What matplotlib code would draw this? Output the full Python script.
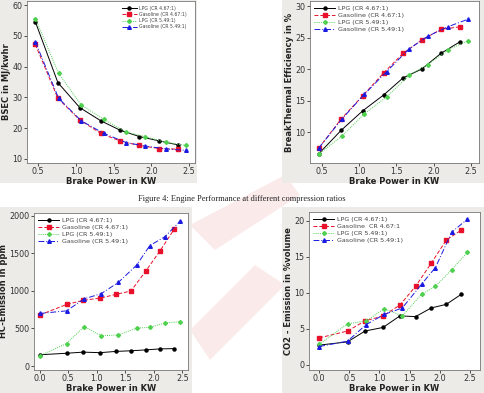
import matplotlib
matplotlib.use("Agg")
import matplotlib.pyplot as plt
from matplotlib.patches import Rectangle, Polygon

# ---- data ----
labels = ["LPG (CR 4.67:1)", "Gasoline (CR 4.67:1)", "LPG (CR 5.49:1)", "Gasoline (CR 5.49:1)"]

bp_467 = [0.46, 0.76, 1.05, 1.33, 1.59, 1.84, 2.10, 2.35]
bp_549 = [0.46, 0.77, 1.07, 1.37, 1.67, 1.92, 2.19, 2.46]

bsec_lpg_467 = [54.6, 34.8, 26.7, 22.4, 19.3, 17.3, 15.9, 14.6]
bsec_gas_467 = [47.2, 29.7, 22.7, 18.3, 15.8, 14.4, 13.4, 13.2]
bsec_lpg_549 = [55.6, 37.8, 27.5, 22.9, 18.7, 17.3, 15.4, 14.4]
bsec_gas_549 = [48.1, 29.7, 22.4, 18.3, 15.3, 14.2, 13.3, 12.8]

bte_lpg_467 = [6.6, 10.3, 13.4, 15.9, 18.6, 20.0, 22.5, 24.3]
bte_gas_467 = [7.5, 12.1, 15.8, 19.4, 22.5, 24.6, 26.3, 26.7]
bte_lpg_549 = [6.5, 9.4, 12.9, 15.6, 19.0, 20.7, 23.0, 24.5]
bte_gas_549 = [7.5, 12.1, 16.0, 19.6, 23.2, 25.2, 26.7, 27.9]

bp0_467 = [0.0, 0.47, 0.76, 1.06, 1.34, 1.60, 1.86, 2.11, 2.36]
bp0_549 = [0.0, 0.47, 0.78, 1.08, 1.38, 1.70, 1.93, 2.20, 2.46]

hc_lpg_467 = [150, 170, 185, 178, 195, 203, 215, 228, 232]
hc_gas_467 = [680, 820, 875, 905, 955, 1000, 1265, 1535, 1825]
hc_lpg_549 = [135, 300, 525, 402, 415, 505, 515, 575, 590]
hc_gas_549 = [700, 735, 895, 965, 1115, 1345, 1605, 1725, 1930]

co2_lpg_467 = [2.75, 3.2, 4.7, 5.2, 6.8, 6.7, 7.9, 8.4, 9.8]
co2_gas_467 = [3.75, 4.7, 6.1, 6.8, 8.3, 10.9, 14.1, 17.3, 18.7]
co2_lpg_549 = [2.85, 5.7, 6.1, 7.8, 6.8, 9.8, 10.9, 13.2, 15.6]
co2_gas_549 = [2.55, 3.3, 5.6, 7.0, 7.9, 11.2, 13.5, 18.4, 20.2]

styles = [
    dict(color="black", linestyle="-", marker="o", markersize=2.2),
    dict(color="#e8102a", linestyle=(0, (4, 2)), marker="s", markersize=2.4),
    dict(color="#4fd04f", linestyle=(0, (1, 1.2)), marker="D", markersize=2.0),
    dict(color="#1a1ae0", linestyle=(0, (6, 2, 1, 2)), marker="^", markersize=2.6),
]

W, H = 484, 393
fig = plt.figure(figsize=(W / 100, H / 100), dpi=100)
fig.patch.set_facecolor("white")

gray = "#ecebe7"


def px_rect(x0, y0, x1, y1):
    return [x0 / W, 1 - y1 / H, (x1 - x0) / W, (y1 - y0) / H]


# faint watermark shapes behind everything
wm = [[(190, 225), (285, 175), (300, 195), (215, 250)],
      [(190, 330), (255, 265), (285, 285), (210, 360)]]
for pts in wm:
    fig.patches.append(Polygon([(x / W, 1 - y / H) for x, y in pts], closed=True,
                               transform=fig.transFigure, facecolor="#f8d6d6",
                               edgecolor="none", alpha=0.5, zorder=-3))

# gray panel backgrounds
for r in [(0, 0, 197, 183), (282, 0, 484, 183), (0, 207, 192, 393), (282, 207, 484, 393)]:
    x, y, w, h = px_rect(*r)
    fig.patches.append(Rectangle((x, y), w, h, transform=fig.transFigure,
                                 facecolor=gray, edgecolor="none", zorder=-2))


def panel(rect, xs, series, xlim, ylim, xticks, yticks, ylabel, leg_loc, leg_size,
          xfmt="{:.1f}", yfmt="{:g}", leg_anchor=None):
    ax = fig.add_axes(px_rect(*rect))
    ax.set_facecolor("white")
    for i, (x, y) in enumerate(zip(xs, series)):
        ax.plot(x, y, linewidth=0.7, label=labels[i], **styles[i])
    ax.set_xlim(*xlim)
    ax.set_ylim(*ylim)
    ax.set_xticks(xticks)
    ax.set_xticklabels([xfmt.format(t) for t in xticks])
    ax.set_yticks(yticks)
    ax.set_yticklabels([yfmt.format(t) for t in yticks])
    ax.tick_params(labelsize=5.8, length=2, width=0.6, pad=1.2, colors="#333333")
    for s in ax.spines.values():
        s.set_linewidth(0.6)
        s.set_color("#777777")
    ax.set_xlabel("Brake Power in KW", fontsize=6.0, fontweight="bold", labelpad=0.3, color="#222222")
    ax.set_ylabel(ylabel, fontsize=6.0, fontweight="bold", labelpad=0.8, color="#222222")
    leg = ax.legend(loc=leg_loc, bbox_to_anchor=leg_anchor, fontsize=leg_size, frameon=False,
                    handlelength=3.2, handletextpad=0.5, labelspacing=0.25, borderaxespad=0.3)
    for t in leg.get_texts():
        t.set_color("#444444")
    return ax


panel((27, 1, 195, 163), [bp_467, bp_467, bp_549, bp_549],
      [bsec_lpg_467, bsec_gas_467, bsec_lpg_549, bsec_gas_549],
      (0.35, 2.58), (8.7, 61.3), [0.5, 1.0, 1.5, 2.0, 2.5], [10, 20, 30, 40, 50, 60],
      "BSEC in MJ/kwhr", "upper right", 3.3, leg_anchor=(0.97, 0.99))

panel((310, 1, 479, 163), [bp_467, bp_467, bp_549, bp_549],
      [bte_lpg_467, bte_gas_467, bte_lpg_549, bte_gas_549],
      (0.34, 2.61), (5.1, 30.8), [0.5, 1.0, 1.5, 2.0, 2.5], [10, 15, 20, 25, 30],
      "BreakThermal Efficiency in %", "upper left", 4.6)

panel((34, 213, 188, 370), [bp0_467] * 2 + [bp0_549] * 2,
      [hc_lpg_467, hc_gas_467, hc_lpg_549, hc_gas_549],
      (-0.10, 2.60), (-53, 2039), [0.0, 0.5, 1.0, 1.5, 2.0, 2.5], [0, 500, 1000, 1500, 2000],
      "HC-Emission in ppm", "upper left", 4.6)

ax4 = panel((309, 212, 480, 370), [bp0_467] * 2 + [bp0_549] * 2,
            [co2_lpg_467, co2_gas_467, co2_lpg_549, co2_gas_549],
            (-0.17, 2.67), (-0.7, 21.2), [0.0, 0.5, 1.0, 1.5, 2.0, 2.5], [0, 5, 10, 15, 20],
            "CO2 - Emission in %volume", "upper left", 4.6)
ax4.get_legend().get_texts()[1].set_text("Gasoline  CR 4.67:1")

fig.text(0.5, 1 - 199 / H, "Figure 4: Engine Performance at different compression ratios",
         ha="center", va="center", fontsize=6, family="Liberation Serif", color="#222222")

fig.savefig("out.png", dpi=100)
